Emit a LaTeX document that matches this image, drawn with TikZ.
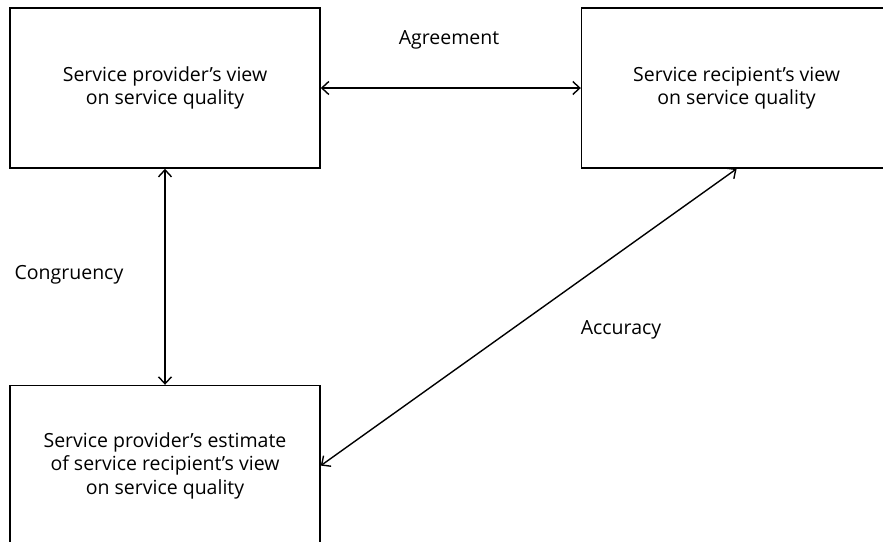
\documentclass[tikz,border=0pt]{standalone}
\usepackage{fontspec}
\setmainfont{Open Sans}
\usetikzlibrary{positioning,arrows.meta}

\tikzset{
  viewbox/.style={draw, line width=1.6pt, minimum width=310pt, minimum height=160pt,
    align=center, inner sep=0pt, font=\fontsize{19.5}{23.5}\selectfont},
  relarrow/.style={{Straight Barb[length=7pt,width=13pt]}-{Straight Barb[length=7pt,width=13pt]}, line width=1.4pt},
  rellabel/.style={font=\fontsize{19.5}{23}\selectfont}
}

\begin{document}
\begin{tikzpicture}[x=1pt, y=-1pt]
    \useasboundingbox (0,0) rectangle (883,541);
    \clip (0,0) rectangle (883,541);

    % the three views
    \node[viewbox] (provider) at (165,88) {Service provider's view\\on service quality};
    \node[viewbox, right=260pt of provider] (recipient) {Service recipient's view\\on service quality};
    \node[viewbox, below=216pt of provider] (estimate) {Service provider's estimate\\of service recipient's view\\on service quality};

    % relations between them
    \draw[relarrow] (provider) -- (recipient);
    \draw[relarrow] (provider) -- (estimate);
    \draw[relarrow] (estimate.east) -- (recipient.south);

    \node[rellabel] (agreement) at (449,40) {Agreement};
    \node[rellabel] (congruency) at (69,275) {Congruency};
    \node[rellabel] (accuracy) at (621,330) {Accuracy};
\end{tikzpicture}
\end{document}
